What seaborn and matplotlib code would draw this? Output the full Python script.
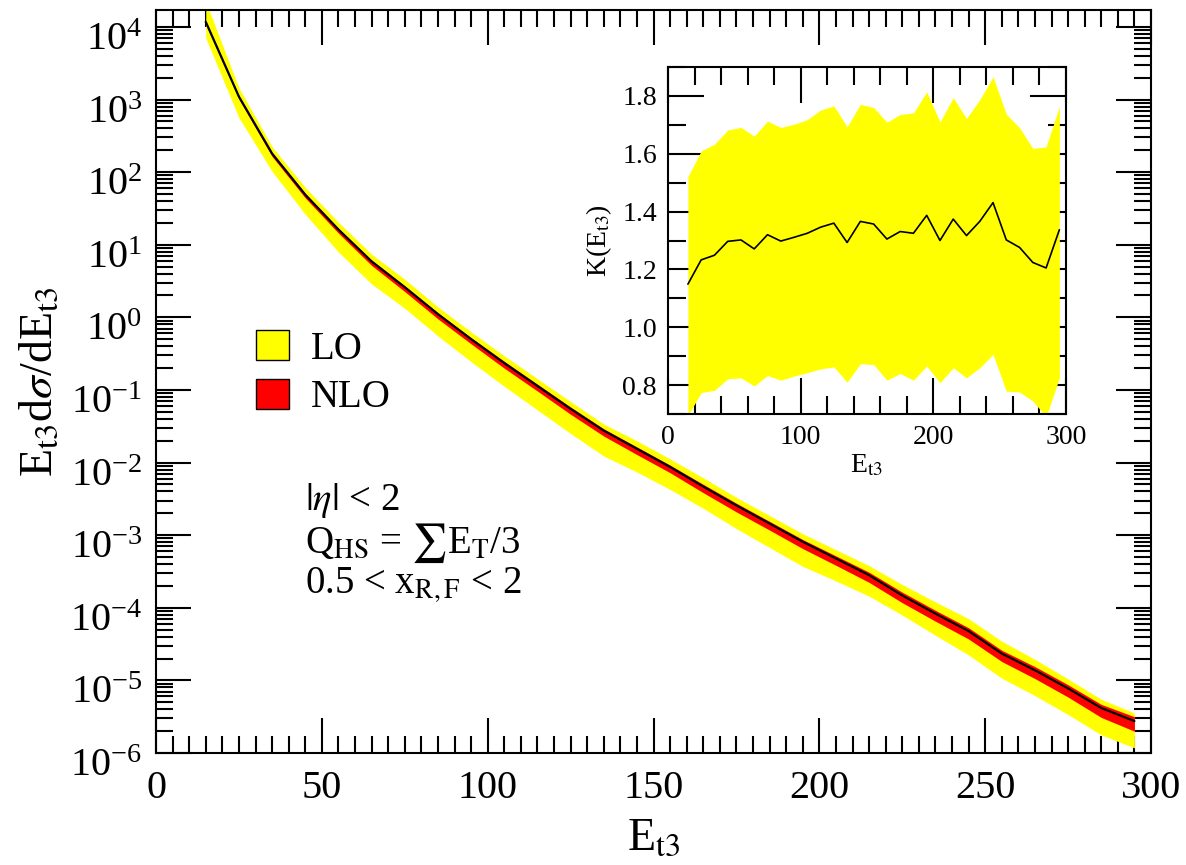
import numpy as np
import pandas as pd
import matplotlib
matplotlib.use("Agg")
import matplotlib.pyplot as plt
import matplotlib.transforms as mtransforms
import seaborn as sns
from matplotlib.patches import Patch
from matplotlib.ticker import LogLocator, MultipleLocator, LogFormatterSciNotation, NullFormatter

# ---------------- data ----------------
et3 = [15, 25, 35, 45, 55, 65, 75, 85, 95, 105, 115, 125, 135, 145, 155,
       165, 175, 185, 195, 205, 215, 225, 235, 245, 255, 265, 275, 285, 295]

# log10 of E dsigma/dE, NLO central
nlo_log10 = [4.07, 3.04, 2.256, 1.69, 1.21, 0.77, 0.415, 0.044, -0.30, -0.63,
             -0.945, -1.26, -1.56, -1.81, -2.06, -2.33, -2.59, -2.84, -3.09, -3.32,
             -3.55, -3.83, -4.08, -4.32, -4.63, -4.86, -5.11, -5.38, -5.56]
nlo_hi_log10 = [4.08, 3.05, 2.27, 1.705, 1.225, 0.79, 0.435, 0.064, -0.28, -0.605,
                -0.92, -1.235, -1.535, -1.785, -2.035, -2.30, -2.56, -2.81, -3.06, -3.285,
                -3.51, -3.785, -4.035, -4.275, -4.585, -4.81, -5.06, -5.33, -5.50]
nlo_lo_log10 = [4.04, 3.005, 2.216, 1.645, 1.16, 0.715, 0.355, -0.021, -0.365, -0.70,
                -1.015, -1.335, -1.635, -1.89, -2.14, -2.415, -2.68, -2.93, -3.185, -3.415,
                -3.65, -3.93, -4.185, -4.43, -4.74, -4.975, -5.23, -5.51, -5.70]
lo_hi_log10 = [4.35, 3.16, 2.35, 1.79, 1.31, 0.87, 0.525, 0.144, -0.20, -0.53,
               -0.845, -1.16, -1.47, -1.70, -1.95, -2.21, -2.48, -2.73, -2.98, -3.20,
               -3.42, -3.68, -3.92, -4.15, -4.46, -4.71, -4.98, -5.26, -5.45]
lo_lo_log10 = [3.85, 2.75, 2.01, 1.42, 0.90, 0.46, 0.125, -0.256, -0.61, -0.95,
               -1.275, -1.60, -1.91, -2.13, -2.37, -2.63, -2.91, -3.17, -3.43, -3.63,
               -3.84, -4.10, -4.38, -4.65, -4.97, -5.21, -5.47, -5.75, -5.93]

# K-factor (inset)
k_central = [1.149, 1.233, 1.249, 1.297, 1.302, 1.271, 1.320, 1.298, 1.311, 1.325,
             1.346, 1.360, 1.293, 1.366, 1.357, 1.305, 1.331, 1.325, 1.387, 1.300,
             1.374, 1.317, 1.366, 1.431, 1.302, 1.276, 1.224, 1.205, 1.337]
k_upper = [1.521, 1.610, 1.633, 1.682, 1.691, 1.661, 1.713, 1.691, 1.702, 1.718,
           1.751, 1.766, 1.693, 1.771, 1.760, 1.709, 1.736, 1.741, 1.814, 1.710,
           1.794, 1.722, 1.787, 1.866, 1.737, 1.690, 1.618, 1.624, 1.764]
k_lower = [0.695, 0.774, 0.782, 0.822, 0.825, 0.797, 0.833, 0.817, 0.831, 0.843,
           0.856, 0.863, 0.810, 0.874, 0.871, 0.817, 0.840, 0.817, 0.866, 0.808,
           0.860, 0.825, 0.860, 0.906, 0.779, 0.776, 0.745, 0.690, 0.825]

df = pd.DataFrame({
    "et3": et3,
    "nlo": np.power(10.0, nlo_log10),
    "nlo_hi": np.power(10.0, nlo_hi_log10),
    "nlo_lo": np.power(10.0, nlo_lo_log10),
    "lo_hi": np.power(10.0, lo_hi_log10),
    "lo_lo": np.power(10.0, lo_lo_log10),
    "k": k_central, "k_up": k_upper, "k_dn": k_lower,
})

# ---------------- style ----------------
sns.set_theme(style="ticks")
plt.rcParams["font.family"] = ["Liberation Serif", "DejaVu Serif"]
plt.rcParams["mathtext.fontset"] = "stix"
plt.rcParams["axes.linewidth"] = 1.5
plt.rcParams["text.color"] = "black"
plt.rcParams["axes.labelcolor"] = "black"
plt.rcParams["xtick.color"] = "black"
plt.rcParams["ytick.color"] = "black"
plt.rcParams["axes.edgecolor"] = "black"

W, H = 1186, 865
fig = plt.figure(figsize=(W / 100, H / 100), dpi=100)

def fx(px):
    return px / W

def fy(py):
    return 1 - py / H

# main axes
ax = fig.add_axes([fx(156), fy(753), fx(1151) - fx(156), fy(10) - fy(753)])
ax.fill_between(df["et3"], df["lo_lo"], df["lo_hi"], color="#ffff00", linewidth=0)
ax.fill_between(df["et3"], df["nlo_lo"], df["nlo_hi"], color="#ff0000", linewidth=0)
sns.lineplot(data=df, x="et3", y="nlo", ax=ax, color="black", linewidth=1.6, legend=False)
ax.set_yscale("log")
ax.set_xlim(0, 300)
ax.set_ylim(1.0e-6, 1.71e4)
ax.xaxis.set_major_locator(MultipleLocator(50))
ax.xaxis.set_minor_locator(MultipleLocator(5))
ax.yaxis.set_major_locator(LogLocator(base=10, numticks=30))
ax.yaxis.set_minor_locator(LogLocator(base=10, subs=np.arange(2, 10), numticks=30))
ax.yaxis.set_major_formatter(LogFormatterSciNotation())
ax.yaxis.set_minor_formatter(NullFormatter())
ax.tick_params(which="both", direction="in", top=True, right=True, width=1.5, colors="black")
ax.tick_params(which="major", length=25, labelsize=29, pad=10)
ax.tick_params(which="minor", length=12.5)
ax.tick_params(axis="x", which="major", pad=12)
ax.set_xlabel(r"E$_{\rm t3}$", fontsize=33, labelpad=8)
ax.set_ylabel(r"E$_{\rm t3}$d$\sigma$/dE$_{\rm t3}$", fontsize=33, labelpad=6)

# shift log tick labels down so the "10" (not the exponent) sits on the tick
shift = mtransforms.ScaledTranslation(0, -9 / 100, fig.dpi_scale_trans)
for lab in ax.get_yticklabels():
    lab.set_transform(lab.get_transform() + shift)

# legend
handles = [Patch(facecolor="#ffff00", edgecolor="black", linewidth=1.0, label="LO"),
           Patch(facecolor="#ff0000", edgecolor="black", linewidth=1.0, label="NLO")]
ax.legend(handles=handles, loc="upper left", bbox_to_anchor=(fx(256), fy(330)),
          bbox_transform=fig.transFigure, frameon=False, fontsize=28,
          handlelength=0.85, handleheight=0.82, handletextpad=0.55, labelspacing=0.28,
          borderaxespad=0, borderpad=0)

# annotations
fig.text(fx(305), fy(500), r"$|\eta|$ < 2", fontsize=28, va="center", ha="left")
fig.text(fx(305), fy(543), r"Q$_{\rm HS}$ = $\sum$E$_{\rm T}$/3", fontsize=28, va="center", ha="left")
fig.text(fx(305), fy(585), r"0.5 < x$_{\rm R,F}$ < 2", fontsize=28, va="center", ha="left")

# inset
axi = fig.add_axes([fx(668), fy(414), fx(1066) - fx(668), fy(67) - fy(414)])
axi.fill_between(df["et3"], df["k_dn"], df["k_up"], color="#ffff00", linewidth=0)
sns.lineplot(data=df, x="et3", y="k", ax=axi, color="black", linewidth=1.2, legend=False)
axi.set_xlim(0, 300)
axi.set_ylim(0.7, 1.9)
axi.xaxis.set_major_locator(MultipleLocator(100))
axi.xaxis.set_minor_locator(MultipleLocator(20))
axi.yaxis.set_major_locator(MultipleLocator(0.2))
axi.yaxis.set_minor_locator(MultipleLocator(0.1))
axi.yaxis.set_major_formatter(matplotlib.ticker.FormatStrFormatter("%.1f"))
axi.tick_params(which="both", direction="in", top=True, right=True, width=1.5, colors="black")
axi.tick_params(which="major", length=26, labelsize=20, pad=8)
axi.tick_params(which="minor", length=13)
axi.set_xlabel(r"E$_{\rm t3}$", fontsize=20, labelpad=2)
axi.set_ylabel(r"K(E$_{\rm t3}$)", fontsize=20, labelpad=6)

fig.savefig("out.png", dpi=100)
